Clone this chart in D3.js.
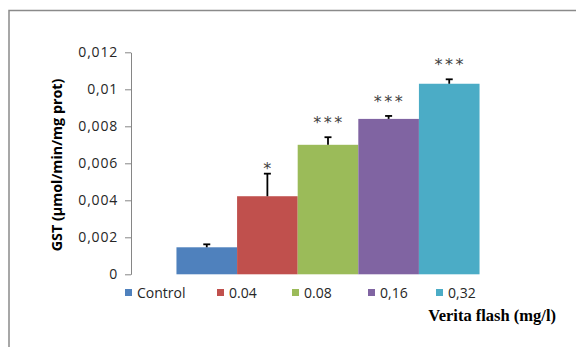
<!DOCTYPE html>
<html>
<head>
<meta charset="utf-8">
<script src="https://cdn.jsdelivr.net/npm/d3@7"></script>
<style>
  html, body { margin: 0; padding: 0; background: #fff; }
  svg { display: block; }
</style>
</head>
<body>
<svg id="chart" width="576" height="347"></svg>
<script>
// GST activity per Verita flash concentration
const groups = ["Control", "0.04", "0.08", "0,16", "0,32"];
const means = [0.00146, 0.00422, 0.00700, 0.00840, 0.01030];
const errors = [0.00016, 0.00122, 0.00041, 0.00016, 0.00024];
const significance = ["", "*", "***", "***", "***"];
const colors = ["#4F81BD", "#C0504D", "#9BBB59", "#8064A2", "#4BACC6"];
const yTicks = [0, 0.002, 0.004, 0.006, 0.008, 0.01, 0.012];
const yTickLabels = ["0", "0,002", "0,004", "0,006", "0,008", "0,01", "0,012"];

const svg = d3.select("#chart");
const plot = { left: 131, right: 525, top: 52.3, bottom: 274.3 };

// outer frame (top and left edges visible)
svg.append("path")
  .attr("d", `M9,347 V10.5 H576`)
  .attr("fill", "none")
  .attr("stroke", "#8a8a8a")
  .attr("stroke-width", 1.5);

const y = d3.scaleLinear().domain([0, 0.012]).range([plot.bottom, plot.top]);
const x = d3.scaleBand().domain(groups).range([plot.left, plot.right])
  .paddingInner(0).paddingOuter(0.75);

// y axis
const yAxis = d3.axisLeft(y).tickValues(yTicks)
  .tickFormat((d, i) => yTickLabels[i]).tickSize(6).tickSizeOuter(0).tickPadding(7);
const yg = svg.append("g").attr("transform", `translate(${plot.left},0)`).call(yAxis);
yg.select(".domain").attr("stroke", "#868686");
yg.selectAll(".tick line").attr("stroke", "#868686");
yg.selectAll(".tick text")
  .attr("font-family", "'Open Sans', sans-serif")
  .attr("font-size", 14)
  .attr("letter-spacing", 0.8)
  .attr("fill", "#262626");

// y axis title
svg.append("text")
  .attr("transform", `translate(62,165) rotate(-90)`)
  .attr("text-anchor", "middle")
  .attr("font-family", "'Open Sans', sans-serif")
  .attr("font-weight", "bold")
  .attr("font-size", 14.3)
  .attr("fill", "#000")
  .text("GST (µmol/min/mg prot)");

// bars
svg.append("g").selectAll("rect")
  .data(groups)
  .join("rect")
  .attr("x", d => x(d))
  .attr("y", (d, i) => y(means[i]))
  .attr("width", x.bandwidth())
  .attr("height", (d, i) => y(0) - y(means[i]))
  .attr("fill", (d, i) => colors[i]);

// upper error bars
const eb = svg.append("g").attr("stroke", "#000").attr("stroke-width", 1.8);
groups.forEach((g, i) => {
  const cx = x(g) + x.bandwidth() / 2;
  const top = y(means[i] + errors[i]);
  eb.append("line").attr("x1", cx).attr("x2", cx).attr("y1", y(means[i])).attr("y2", top);
  eb.append("line").attr("x1", cx - 3.5).attr("x2", cx + 3.5).attr("y1", top).attr("y2", top);
});

// significance marks (single star sits closer to its error bar)
svg.append("g").selectAll("text")
  .data(groups)
  .join("text")
  .attr("x", d => x(d) + x.bandwidth() / 2 + 1)
  .attr("y", (d, i) => y(means[i] + errors[i]) - (significance[i].length > 1 ? 9 : 0))
  .attr("text-anchor", "middle")
  .attr("font-family", "'DejaVu Sans', sans-serif")
  .attr("font-size", 16)
  .attr("letter-spacing", 2.5)
  .attr("fill", "#404040")
  .text((d, i) => significance[i]);

// legend
const legendX = [125, 217, 292, 368, 436];
const lg = svg.append("g");
groups.forEach((g, i) => {
  lg.append("rect").attr("x", legendX[i]).attr("y", 289).attr("width", 7).attr("height", 7)
    .attr("fill", colors[i]);
  lg.append("text").attr("x", legendX[i] + 12).attr("y", 298)
    .attr("font-family", "'Open Sans', sans-serif")
    .attr("font-size", 14)
    .attr("fill", "#262626")
    .text(g);
});

// x axis title
svg.append("text")
  .attr("x", 556).attr("y", 321)
  .attr("text-anchor", "end")
  .attr("font-family", "'Liberation Serif', 'Times New Roman', serif")
  .attr("font-weight", "bold")
  .attr("font-size", 16.5)
  .attr("fill", "#000")
  .text("Verita flash (mg/l)");
</script>
</body>
</html>
